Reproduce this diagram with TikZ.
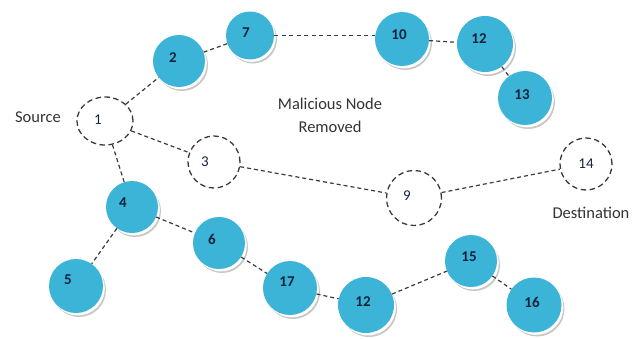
\documentclass[tikz,border=0pt]{standalone}
\usepackage{fontspec}
\setmainfont{Carlito}
\usetikzlibrary{shapes.geometric}
\definecolor{nodeblue}{HTML}{3CB4D8}
\definecolor{labelnavy}{HTML}{14233C}
\definecolor{linegray}{HTML}{3A3A3A}
\tikzset{
  bnode/.style={circle, minimum size=52pt, inner sep=0pt, fill=nodeblue,
    preaction={fill=black!22, transform canvas={shift={(3pt,-4pt)}}},
    preaction={fill=white, transform canvas={shift={(1.8pt,-2.4pt)}}}},
  blab/.style={font=\fontsize{15}{15}\selectfont\bfseries, text=labelnavy},
  dnode/.style={circle, minimum size=52pt, inner sep=0pt, draw=linegray, line width=1.3pt, dash pattern=on 5.5pt off 3.5pt},
  dlab/.style={font=\fontsize{15}{15}\selectfont, text=labelnavy},
  link/.style={draw=linegray, line width=1.2pt, dash pattern=on 4pt off 3pt},
  txt/.style={font=\fontsize{16.5}{23}\selectfont, text=black!80, align=center}
}
\begin{document}
\begin{tikzpicture}[x=1pt,y=-1pt]
\useasboundingbox (0,0) rectangle (641,338);
% blue nodes
\node[bnode, label={[blab,xshift=-6pt,yshift=3pt]center:2}] (n2) at (179,61) {};
\node[bnode, minimum size=48pt, label={[blab,xshift=-4pt,yshift=3pt]center:7}] (n7) at (250,35.5) {};
\node[bnode, minimum size=54pt, label={[blab,xshift=-3pt,yshift=4pt]center:10}] (n10) at (402,39) {};
\node[bnode, minimum size=56pt, label={[blab,xshift=-6pt,yshift=5pt]center:12}] (n12a) at (485,44) {};
\node[bnode, minimum size=54pt, label={[blab,xshift=-3pt,yshift=3pt]center:13}] (n13) at (525,98) {};
\node[bnode, label={[blab,xshift=-9pt,yshift=4pt]center:4}] (n4) at (132,207) {};
\node[bnode, label={[blab,xshift=-7pt,yshift=4pt]center:6}] (n6) at (219,243) {};
\node[bnode, minimum size=54pt, label={[blab,xshift=-8pt,yshift=6pt]center:5}] (n5) at (76,286) {};
\node[bnode, minimum size=54pt, label={[blab,xshift=-3pt,yshift=6pt]center:17}] (n17) at (290,288) {};
\node[bnode, minimum size=56pt, label={[blab,xshift=-3pt,yshift=3pt]center:12}] (n12b) at (366,305) {};
\node[bnode, label={[blab,xshift=-2pt,yshift=4pt]center:15}] (n15) at (471,261) {};
\node[bnode, minimum size=55pt, label={[blab,xshift=-2pt,yshift=3pt]center:16}] (n16) at (534,305) {};
% removed (dashed) nodes
\node[dnode, ellipse, minimum width=56pt, minimum height=48pt, label={[dlab,xshift=-7pt,yshift=1pt]center:1}] (n1) at (105,121) {};
\node[dnode, label={[dlab,xshift=-9pt,yshift=0pt]center:3}] (n3) at (214,162) {};
\node[dnode, minimum size=55pt, label={[dlab,xshift=-7pt,yshift=2pt]center:9}] (n9) at (414,198) {};
\node[dnode, label={[dlab,xshift=0pt,yshift=0pt]center:14}] (n14) at (586,164) {};
% texts
\node[txt] (src) at (38,117) {Source};
\node[txt] (dst) at (591,213) {Destination};
\node[txt] (mal) at (330,115) {Malicious Node\\Removed};
% links
\path[link] (n1) -- (n2);
\path[link] (n2) -- (n7);
\path[link, dash pattern=on 4pt off 3.5pt] (n7.east) -- (n10.west |- n7.east);
\path[link] (n10) -- (n12a);
\path[link] (n12a) -- (n13);
\path[link] (n1) -- (n3);
\path[link] (n1) -- (n4);
\path[link] (n3) -- (n9);
\path[link] (n9) -- (n14);
\path[link] (n4) -- (n6);
\path[link] (n4) -- (n5);
\path[link] (n6) -- (n17);
\path[link] (n17) -- (n12b);
\path[link] (n12b) -- (n15);
\path[link] (n15) -- (n16);
\end{tikzpicture}
\end{document}
